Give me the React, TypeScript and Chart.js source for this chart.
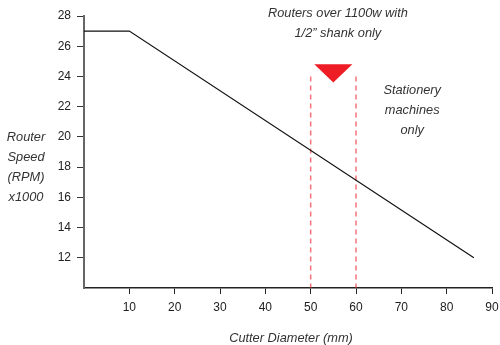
import React, { useEffect, useRef } from "react";
import { Chart, registerables } from "chart.js";

Chart.register(...registerables);

// Data
const diameters = [0, 10, 86];
const speeds = [27, 27, 12];
const limitLines = [50, 60];
const limitTop = 24;
const xTicksMin = 0, xTicksMax = 90, xStep = 10;
const yTicksMin = 10, yTicksMax = 28, yStep = 2;
const yTitleLines = ["Router", "Speed", "(RPM)", "x1000"];
const xTitle = "Cutter Diameter (mm)";
const zoneNote = ["Routers over 1100w with", "1/2\u201d shank only"];
const zoneNoteAt = [56, 28.2];
const stationNote = ["Stationery", "machines", "only"];
const stationNoteAt = [72.4, 23.1];
const marker = { left: 50.8, right: 59.2, top: 24.8, apex: 23.6, x: 55 };

const FONT = "'Liberation Sans', Arial, sans-serif";

const notesPlugin = {
  id: "notes",
  afterDraw(chart: any) {
    const { ctx, scales, chartArea } = chart;
    const xs = scales.x, ys = scales.y;
    ctx.save();
    // triangle marker
    ctx.fillStyle = "#ee1c25";
    ctx.beginPath();
    ctx.moveTo(xs.getPixelForValue(marker.left), ys.getPixelForValue(marker.top));
    ctx.lineTo(xs.getPixelForValue(marker.right), ys.getPixelForValue(marker.top));
    ctx.lineTo(xs.getPixelForValue(marker.x), ys.getPixelForValue(marker.apex));
    ctx.closePath();
    ctx.fill();

    ctx.fillStyle = "#333";
    ctx.font = "italic 12.8px " + FONT;
    ctx.textAlign = "center";
    ctx.textBaseline = "middle";
    const lh = 20;
    zoneNote.forEach((t, i) => {
      ctx.fillText(t, xs.getPixelForValue(zoneNoteAt[0]), ys.getPixelForValue(zoneNoteAt[1]) + i * lh);
    });
    stationNote.forEach((t, i) => {
      ctx.fillText(t, xs.getPixelForValue(stationNoteAt[0]), ys.getPixelForValue(stationNoteAt[1]) + i * lh);
    });
    // y title
    yTitleLines.forEach((t, i) => {
      ctx.fillText(t, chartArea.left - 58, ys.getPixelForValue(20) + 1 + i * lh);
    });
    // x title
    ctx.fillText(xTitle, (chartArea.left + chartArea.right) / 2 + 3, chartArea.bottom + 50);
    ctx.restore();
  },
};

export default function App() {
  const ref = useRef<HTMLCanvasElement>(null);
  useEffect(() => {
    if (!ref.current) return;
    const dashed = limitLines.map((v) => ({
      data: [
        { x: v, y: limitTop },
        { x: v, y: yTicksMin },
      ],
      borderColor: "rgba(238,40,50,0.65)",
      borderWidth: 1.5,
      borderDash: [5, 4],
      pointRadius: 0,
      fill: false,
    }));
    const chart = new Chart(ref.current, {
      type: "line",
      data: {
        datasets: [
          {
            data: diameters.map((d, i) => ({ x: d, y: speeds[i] })),
            borderColor: "#111",
            borderWidth: 1.2,
            pointRadius: 0,
            tension: 0,
            fill: false,
          },
          ...dashed,
        ],
      },
      options: {
        responsive: false,
        animation: false,
        layout: { padding: { left: 0, top: 16, right: 8, bottom: 0 } },
        plugins: { legend: { display: false }, tooltip: { enabled: false } },
        scales: {
          x: {
            type: "linear",
            min: xTicksMin,
            max: xTicksMax,
            afterFit: (s: any) => { s.height = 57; s.paddingRight = 0; s.paddingLeft = 0; },
            ticks: {
              stepSize: xStep,
              padding: 6,
              color: "#222",
              font: { family: FONT, size: 12 },
              maxRotation: 0,
              callback: (v: any) => (v === xTicksMin ? null : String(v)),
            },
            grid: { drawOnChartArea: false, drawTicks: true, tickLength: 6, color: "#222", lineWidth: 1 },
            border: { color: "#222", width: 1.5 },
          },
          y: {
            type: "linear",
            min: yTicksMin,
            max: yTicksMax,
            afterFit: (s: any) => { s.width = 84; s.paddingTop = 0; s.paddingBottom = 0; },
            ticks: {
              stepSize: yStep,
              padding: 6,
              color: "#222",
              font: { family: FONT, size: 12 },
              callback: (v: any) => (v === yTicksMin ? null : String(v)),
            },
            grid: { drawOnChartArea: false, drawTicks: true, tickLength: 7, color: "#333", lineWidth: 1 },
            border: { color: "#666", width: 2 },
          },
        },
      },
      plugins: [notesPlugin],
    } as any);
    return () => chart.destroy();
  }, []);
  return (
    <div style={{ position: "fixed", left: 0, top: 0, width: 500, height: 345, background: "#fff" }}>
      <canvas ref={ref} width={500} height={345} />
    </div>
  );
}
